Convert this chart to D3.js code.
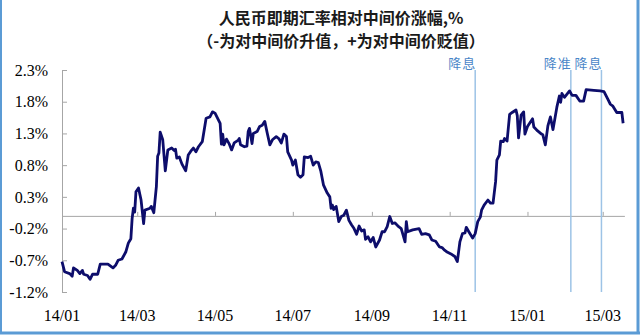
<!DOCTYPE html>
<html>
<head>
<meta charset="utf-8">
<script src="https://cdn.jsdelivr.net/npm/d3@7"></script>
<style>
  body { margin: 0; background: #fff; }
  #chart svg { display: block; }
</style>
</head>
<body>
<div id="chart"></div>
<script>
// series (trading days are approximate)
const dates = [
  "2014-01-01","2014-01-03","2014-01-07","2014-01-09","2014-01-10","2014-01-13","2014-01-15","2014-01-17","2014-01-18","2014-01-21",
  "2014-01-23","2014-01-25","2014-01-29","2014-01-31","2014-02-06","2014-02-10","2014-02-12","2014-02-14","2014-02-17","2014-02-20",
  "2014-02-22","2014-02-24","2014-02-25","2014-02-26","2014-02-27","2014-02-28","2014-03-02","2014-03-04","2014-03-06","2014-03-07",
  "2014-03-11","2014-03-12","2014-03-14","2014-03-16","2014-03-17","2014-03-18","2014-03-19","2014-03-21","2014-03-23","2014-03-25",
  "2014-03-28","2014-03-30","2014-03-31","2014-04-01","2014-04-03","2014-04-05","2014-04-08","2014-04-10","2014-04-12","2014-04-14",
  "2014-04-16","2014-04-18","2014-04-21","2014-04-24","2014-04-27","2014-04-29","2014-05-01","2014-05-05","2014-05-06","2014-05-07",
  "2014-05-08","2014-05-10","2014-05-12","2014-05-14","2014-05-16","2014-05-19","2014-05-20","2014-05-21","2014-05-24","2014-05-26",
  "2014-05-27","2014-05-28","2014-05-30","2014-05-31","2014-06-03","2014-06-05","2014-06-07","2014-06-09","2014-06-11","2014-06-13",
  "2014-06-15","2014-06-18","2014-06-20","2014-06-22","2014-06-24","2014-06-26","2014-06-27","2014-06-30","2014-07-01","2014-07-03",
  "2014-07-05","2014-07-07","2014-07-09","2014-07-10","2014-07-13","2014-07-15","2014-07-17","2014-07-19","2014-07-21","2014-07-23",
  "2014-07-25","2014-07-28","2014-07-30","2014-07-31","2014-08-01","2014-08-02","2014-08-04","2014-08-06","2014-08-08","2014-08-10",
  "2014-08-12","2014-08-14","2014-08-16","2014-08-18","2014-08-20","2014-08-22","2014-08-24","2014-08-26","2014-08-27","2014-08-29",
  "2014-08-31","2014-09-02","2014-09-04","2014-09-07","2014-09-09","2014-09-11","2014-09-13","2014-09-15","2014-09-17","2014-09-19",
  "2014-09-22","2014-09-24","2014-09-27","2014-09-28","2014-09-29","2014-10-03","2014-10-08","2014-10-10","2014-10-13","2014-10-16",
  "2014-10-18","2014-10-21","2014-10-24","2014-10-26","2014-10-28","2014-10-30","2014-11-02","2014-11-05","2014-11-07","2014-11-09",
  "2014-11-11","2014-11-13","2014-11-14","2014-11-16","2014-11-19","2014-11-21","2014-11-23","2014-11-25","2014-11-26","2014-11-28",
  "2014-12-01","2014-12-03","2014-12-05","2014-12-07","2014-12-08","2014-12-10","2014-12-11","2014-12-13","2014-12-14","2014-12-16",
  "2014-12-18","2014-12-20","2014-12-23","2014-12-24","2014-12-25","2014-12-27","2014-12-29","2014-12-30","2015-01-01","2015-01-05",
  "2015-01-06","2015-01-09","2015-01-12","2015-01-13","2015-01-15","2015-01-17","2015-01-19","2015-01-21","2015-01-24","2015-01-26",
  "2015-01-27","2015-01-28","2015-01-30","2015-02-01","2015-02-03","2015-02-05","2015-02-08","2015-02-11","2015-02-14","2015-02-16",
  "2015-02-22","2015-02-27","2015-03-02","2015-03-05","2015-03-07","2015-03-09","2015-03-12","2015-03-16","2015-03-17"
] ;
const values = [
  -0.72,-0.88,-0.91,-0.95,-0.82,-0.86,-0.91,-0.86,-0.92,-0.94,
  -1.00,-0.92,-0.92,-0.76,-0.76,-0.82,-0.78,-0.70,-0.68,-0.57,
  -0.43,-0.36,-0.04, 0.12, 0.06, 0.38, 0.44, 0.25,-0.12, 0.09,
   0.12, 0.15, 0.05, 0.46, 0.94, 0.99, 1.32, 1.20, 0.71, 1.04,
   1.07, 1.03, 1.05, 0.91, 0.93, 0.82, 0.71, 0.96, 1.02, 1.07,
   1.01, 1.09, 1.17, 1.54, 1.56, 1.64, 1.62, 1.46, 1.13, 1.29,
   1.12, 1.21, 1.14, 1.04, 1.15, 1.19, 1.22, 1.12, 1.09, 1.10,
   1.33, 1.38, 1.14, 1.30, 1.33, 1.41, 1.43, 1.49, 1.30, 1.12,
   1.20, 1.25, 1.22, 1.15, 1.29, 1.25, 1.01, 0.88, 0.80, 0.88,
   0.65, 0.61, 0.65, 0.93, 0.92, 0.94, 0.80, 0.85, 0.84, 0.70,
   0.49, 0.36, 0.30, 0.12, 0.17, 0.10, 0.15,-0.09,-0.01, 0.01,
   0.09,-0.07,-0.14,-0.20,-0.29,-0.16,-0.24,-0.22,-0.37,-0.33,
  -0.41,-0.34,-0.49,-0.38,-0.25,-0.25,-0.17,-0.01,-0.12,-0.11,
  -0.17,-0.20,-0.41,-0.09,-0.25,-0.22,-0.20,-0.29,-0.28,-0.30,
  -0.38,-0.40,-0.49,-0.50,-0.54,-0.57,-0.60,-0.64,-0.72,-0.41,
  -0.28,-0.27,-0.18,-0.25,-0.35,-0.28,-0.09,-0.02, 0.09, 0.17,
   0.25, 0.20, 0.20, 0.54, 0.88, 0.96, 1.18, 1.17, 1.22, 1.18,
   1.60, 1.63, 1.67, 1.58, 1.23, 1.59, 1.64, 1.29, 1.41, 1.53,
   1.40, 1.34, 1.29, 1.28, 1.12, 1.42, 1.56, 1.36, 1.71, 1.89,
   1.79, 1.93, 1.87, 1.92, 1.97, 1.90, 1.90, 1.81, 1.81, 1.99,
   1.98, 1.97, 1.96, 1.84, 1.76, 1.73, 1.63, 1.63, 1.46
] ;

const yTicks = [-1.2, -0.7, -0.2, 0.3, 0.8, 1.3, 1.8, 2.3] ;
const xTickDates = ["2014-01-01","2014-03-01","2014-05-01","2014-07-01","2014-09-01","2014-11-01","2015-01-01","2015-03-01"] ;
const xTickLabels = ["14/01","14/03","14/05","14/07","14/09","14/11","15/01","15/03"] ;
const eventDates = ["2014-11-21","2015-02-04","2015-02-28"] ;
const eventLabels = ["降息","降准","降息"] ;
const titleLines = ["人民币即期汇率相对中间价涨幅,%", "（-为对中间价升值，+为对中间价贬值）"] ;

const parseDate = d3.timeParse("%Y-%m-%d") ;
const series = dates.map((d, i) => ({date: parseDate(d), value: values[i]})) ;

let dimensions = {
  width: 640,
  height: 335,
  margin: {top: 70, right: 15.6, bottom: 43, left: 62},
}
dimensions.boundedWidth = dimensions.width - dimensions.margin.left - dimensions.margin.right
dimensions.boundedHeight = dimensions.height - dimensions.margin.top - dimensions.margin.bottom

const svg = d3.select("#chart").append("svg")
    .attr("width", dimensions.width)
    .attr("height", dimensions.height)
;

// outer frame (left, right, bottom)
const frame = "#5b9bd5" ;
svg.append("line").attr("x1", 1).attr("x2", 1).attr("y1", 0).attr("y2", 334).attr("stroke", frame).attr("stroke-width", 2) ;
svg.append("line").attr("x1", 638).attr("x2", 638).attr("y1", 0).attr("y2", 334).attr("stroke", frame).attr("stroke-width", 3) ;
svg.append("line").attr("x1", 0).attr("x2", 640).attr("y1", 333).attr("y2", 333).attr("stroke", frame).attr("stroke-width", 3) ;

// title
svg.append("g")
  .selectAll("text")
  .data(titleLines)
  .enter().append("text")
    .attr("x", 341)
    .attr("y", (d, i) => 24 + i * 23)
    .attr("text-anchor", "middle")
    .style("font-family", "'Noto Sans CJK SC', sans-serif")
    .style("font-size", "16px")
    .style("font-weight", "bold")
    .style("fill", "#1a1a1a")
    .text(d => d)
;

const bounds = svg.append("g")
    .attr("transform", `translate(${dimensions.margin.left}, ${dimensions.margin.top})`)
;

const xScale = d3.scaleTime()
  .domain([parseDate("2014-01-01"), parseDate("2015-03-18")])
  .range([0, dimensions.boundedWidth])
;
const yScale = d3.scaleLinear()
  .domain([-1.2, 2.3])
  .range([dimensions.boundedHeight, 0])
;

// y axis, ticks pointing inward
const yAxis = bounds.append("g")
  .call(d3.axisRight(yScale).tickValues(yTicks).tickSize(5).tickFormat(""))
;
yAxis.select(".domain").attr("stroke", "#a6a6a6").attr("d", `M0.5,${yScale(-1.2)}V${yScale(2.3)}`) ;
yAxis.selectAll(".tick line").attr("stroke", "#a6a6a6") ;

bounds.append("g")
  .selectAll("text")
  .data(yTicks)
  .enter().append("text")
    .attr("x", -14)
    .attr("y", d => yScale(d))
    .attr("dy", "0.36em")
    .attr("text-anchor", "end")
    .style("font-family", "'Liberation Serif', 'Times New Roman', serif")
    .style("font-size", "16px")
    .style("fill", "#000")
    .text(d => d.toFixed(1) + "%")
;

// x axis on the zero line, ticks pointing up
const xAxis = bounds.append("g")
  .attr("transform", `translate(0, ${yScale(0)})`)
  .call(d3.axisTop(xScale).tickValues(xTickDates.map(parseDate)).tickSize(4).tickSizeOuter(0).tickFormat(""))
;
xAxis.select(".domain").attr("stroke", "#a6a6a6") ;
xAxis.selectAll(".tick line").attr("stroke", "#a6a6a6") ;

bounds.append("g")
  .selectAll("text")
  .data(xTickDates)
  .enter().append("text")
    .attr("x", d => xScale(parseDate(d)))
    .attr("y", dimensions.boundedHeight + 29)
    .attr("text-anchor", "middle")
    .style("font-family", "'Liberation Serif', 'Times New Roman', serif")
    .style("font-size", "16px")
    .style("fill", "#000")
    .text((d, i) => xTickLabels[i])
;

// policy event markers
const events = bounds.append("g")
  .selectAll("g")
  .data(eventDates)
  .enter().append("g")
    .attr("transform", d => `translate(${xScale(parseDate(d))}, 0)`)
;
events.append("line")
  .attr("y1", 0)
  .attr("y2", dimensions.boundedHeight)
  .attr("stroke", "#9dc3e6")
  .attr("stroke-width", 1.5)
;
events.append("text")
  .attr("x", 1)
  .attr("y", -2)
  .attr("text-anchor", "end")
  .style("font-family", "'Noto Sans CJK SC', sans-serif")
  .style("font-size", "13px")
  .style("letter-spacing", "1px")
  .style("fill", "#4a86c8")
  .text((d, i) => eventLabels[i])
;

const lineGenerator = d3.line()
  .x(d => xScale(d.date))
  .y(d => yScale(d.value))
;
bounds.append("path")
  .datum(series)
  .attr("d", lineGenerator)
  .attr("fill", "none")
  .attr("stroke", "#0d0d6b")
  .attr("stroke-width", 2.8)
  .attr("stroke-linejoin", "round")
;
</script>
</body>
</html>
